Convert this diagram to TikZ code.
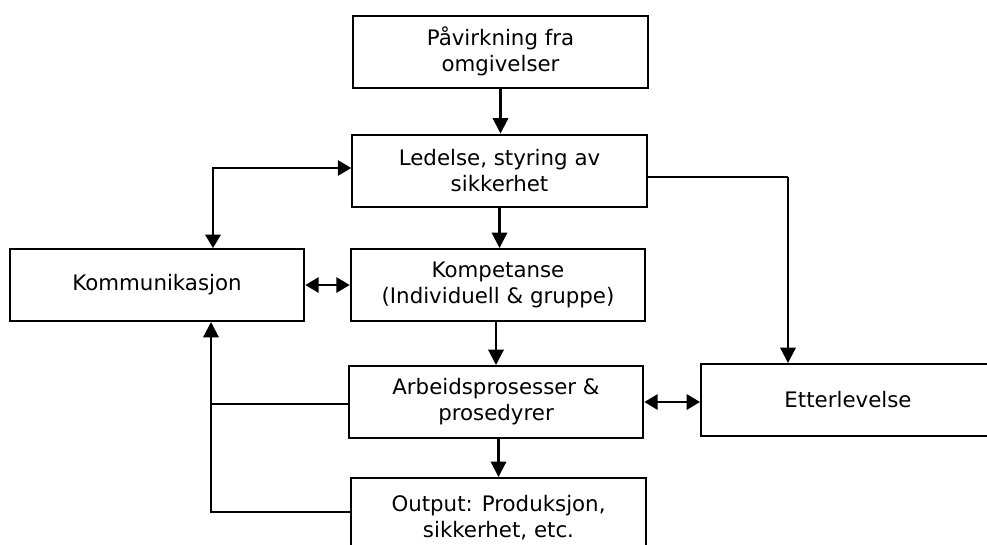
\documentclass[tikz,border=0pt]{standalone}
\usepackage{fontspec}
\setmainfont{DejaVu Sans}
\usetikzlibrary{arrows.meta}
\begin{document}
\begin{tikzpicture}[x=0.75pt,y=-0.75pt,
  box/.style={draw, line width=1.5pt, minimum width=221pt, minimum height=54pt,
    inner sep=0pt, align=center, font=\fontsize{16}{19.5}\selectfont},
  link/.style={line width=1.6pt},
  tip/.style={-{Triangle[length=11.5pt,width=11.5pt]}},
  both/.style={{Triangle[length=10pt,width=11.5pt]}-{Triangle[length=10pt,width=11.5pt]}}]
\useasboundingbox (0,0) rectangle (987,544);
\clip (0,0) rectangle (987,544);

% boxes
\node[box] (pav)  at (500.5,51.5) {Påvirkning fra\\omgivelser};
\node[box] (led)  at (499.5,170.5) {Ledelse, styring av\\sikkerhet};
\node[box] (kom)  at (157,285) {Kommunikasjon};
\node[box] (komp) at (498,285) {Kompetanse\\(Individuell \& gruppe)};
\node[box] (arb)  at (496,402) {Arbeidsprosesser \&\\prosedyrer};
\node[box, minimum height=60pt] (out) at (498.5,518) {Output: Produksjon,\\sikkerhet, etc.};
\node[box, minimum width=220.5pt] (ett) at (848,400) {Etterlevelse};

% bend points
\coordinate (kc) at (213,168);
\coordinate (ec) at (788,177);
\coordinate (fa) at (211,404);
\coordinate (fb) at (211,512);

% main chain
\draw[link,tip] (pav.south) -- (pav.south |- led.north);
\draw[link,tip] (led.south) -- (led.south |- komp.north);
\draw[link,tip] (arb.north |- komp.south) -- (arb.north);
\draw[link,tip] (out.north |- arb.south) -- (out.north);

% two-way links
\draw[link,both] (kom.north -| kc) -- (kc) -- (kc -| led.west);
\draw[link,both] (kom.east) -- (komp.west);
\draw[link,both] (arb.east) -- (arb.east -| ett.west);

% management to compliance
\draw[line width=0.8pt] (led.east |- ec) -- (ec);
\draw[link,tip] (ec) -- (ec |- ett.north);

% feedback to communication
\draw[link,tip] (out.west |- fb) -- (fb) -- (fb |- kom.south);
\draw[link] (fa) -- (fa -| arb.west);
\end{tikzpicture}
\end{document}
